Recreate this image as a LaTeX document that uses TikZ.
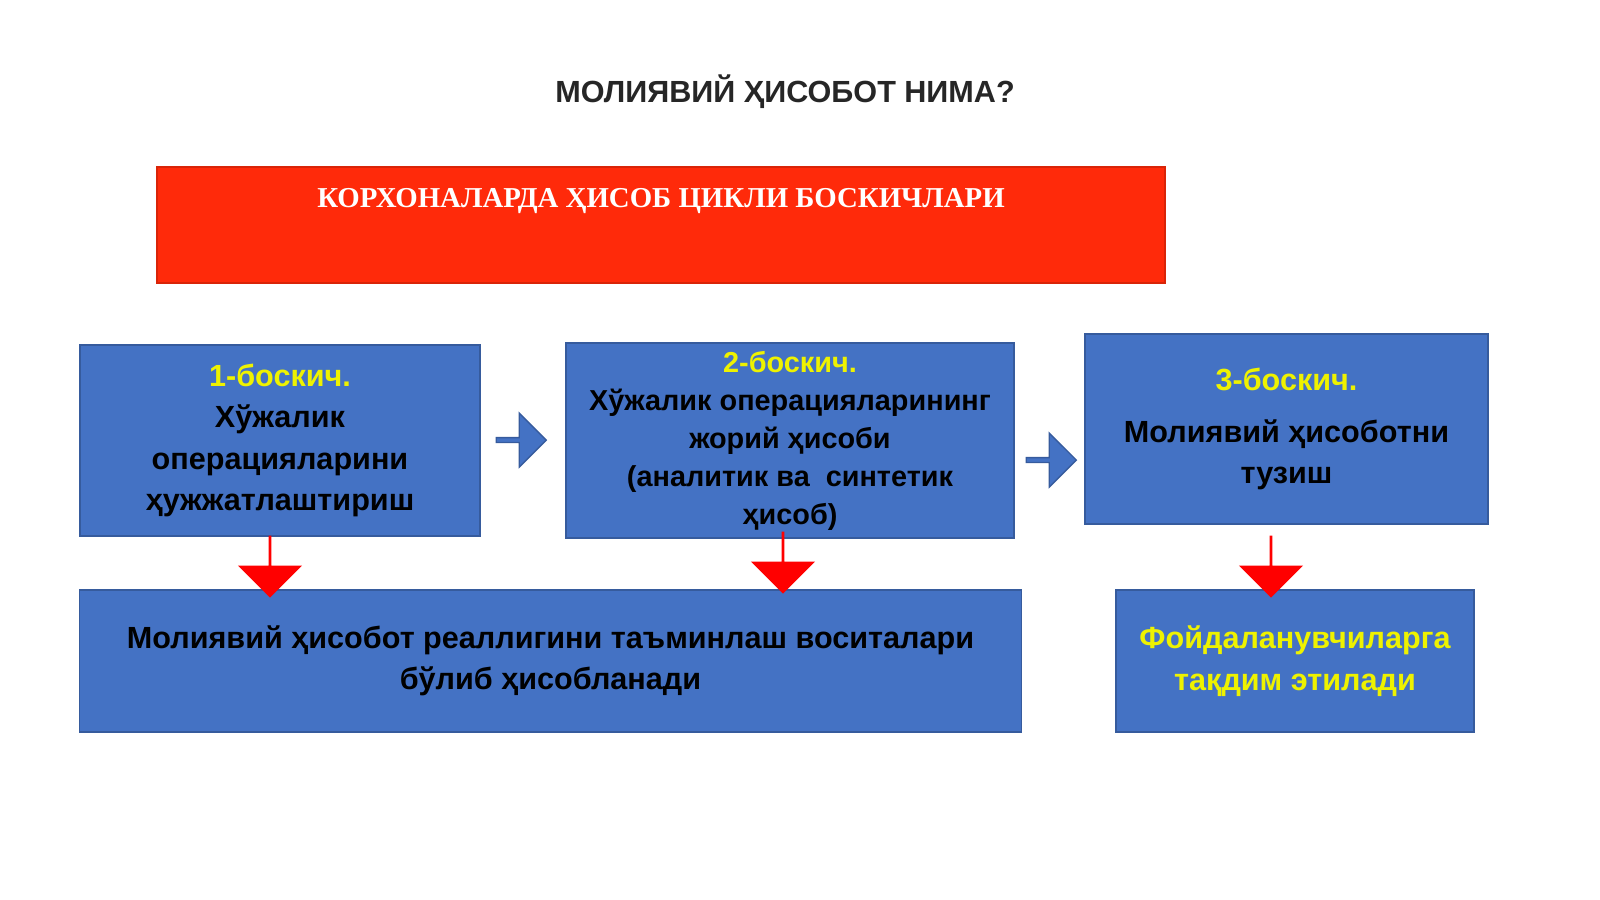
\documentclass[tikz,border=0pt]{standalone}
\usepackage{fontspec}
\setmainfont{Liberation Sans}
\newfontfamily\serifbold{Liberation Serif}
\usetikzlibrary{positioning}
\usetikzlibrary{shapes.arrows}
\definecolor{boxblue}{HTML}{4472C4}
\definecolor{hdrred}{HTML}{FF2A0A}
\definecolor{stepyel}{HTML}{EEF200}
\newcommand{\stp}[1]{\textcolor{stepyel}{#1}}
\tikzset{
  blk/.style={draw=boxblue!80!black, fill=boxblue, inner sep=0pt, align=center, font=\fontsize{8.7}{11.8}\selectfont\bfseries},
  rarr/.style={single arrow, fill=boxblue, draw=boxblue!80!black, minimum height=0.5cm, minimum width=0.54cm, single arrow head extend=0.07cm, inner sep=0pt},
  darr/.style={single arrow, fill=red, draw=none, shape border rotate=270, minimum height=0.62cm, minimum width=0.64cm, single arrow head extend=0.16cm, inner sep=0pt},
}
\begin{document}
\begin{tikzpicture}[x=0.01cm,y=-0.01cm]
\useasboundingbox (0,0) rectangle (1600,899);
\node (title) at (785,92) {\fontsize{8.7}{10}\selectfont\bfseries\textcolor{black!85}{МОЛИЯВИЙ ҲИСОБОТ НИМА?}};
% the red header
\draw[fill=hdrred, draw=hdrred!85!black] (157,167) rectangle (1165,283);
\node (hdr) at (661,201) {\fontsize{8.2}{10}\selectfont\serifbold\bfseries\textcolor{white}{КОРХОНАЛАРДА ҲИСОБ ЦИКЛИ БОСКИЧЛАРИ}};
% the three steps
\node[blk, minimum width=4cm, minimum height=1.91cm] (s1) at (280,440.5) {\stp{1-боскич.}\\Хўжалик\\операцияларини\\ҳужжатлаштириш};
\node[blk, minimum width=4.48cm, minimum height=1.95cm, font=\fontsize{8.2}{10.8}\selectfont\bfseries] (s2) at (790,440.5) {\stp{2-боскич.}\\Хўжалик операцияларининг\\жорий ҳисоби\\(аналитик ва\ \ синтетик\\ҳисоб)};
\node[blk, minimum width=4.03cm, minimum height=1.9cm] (s3) at (1286.5,429) {\stp{3-боскич.}\\[3pt]Молиявий ҳисоботни\\тузиш};
% the results
\node[blk, minimum width=9.41cm, minimum height=1.42cm] (r1) at (550.5,661) {Молиявий ҳисобот реаллигини таъминлаш воситалари\\бўлиб ҳисобланади};
\node[blk, minimum width=3.58cm, minimum height=1.42cm] (r2) at (1295,661) {\stp{Фойдаланувчиларга}\\\stp{тақдим этилади}};
% arrows
\node[rarr] (a1) at (520,440) {};
\node[rarr] (a2) at (1050,460) {};
\node[darr] (d1) at (270,566) {};
\node[darr] (d2) at (783,562) {};
\node[darr] (d3) at (1271,566) {};
\end{tikzpicture}
\end{document}
